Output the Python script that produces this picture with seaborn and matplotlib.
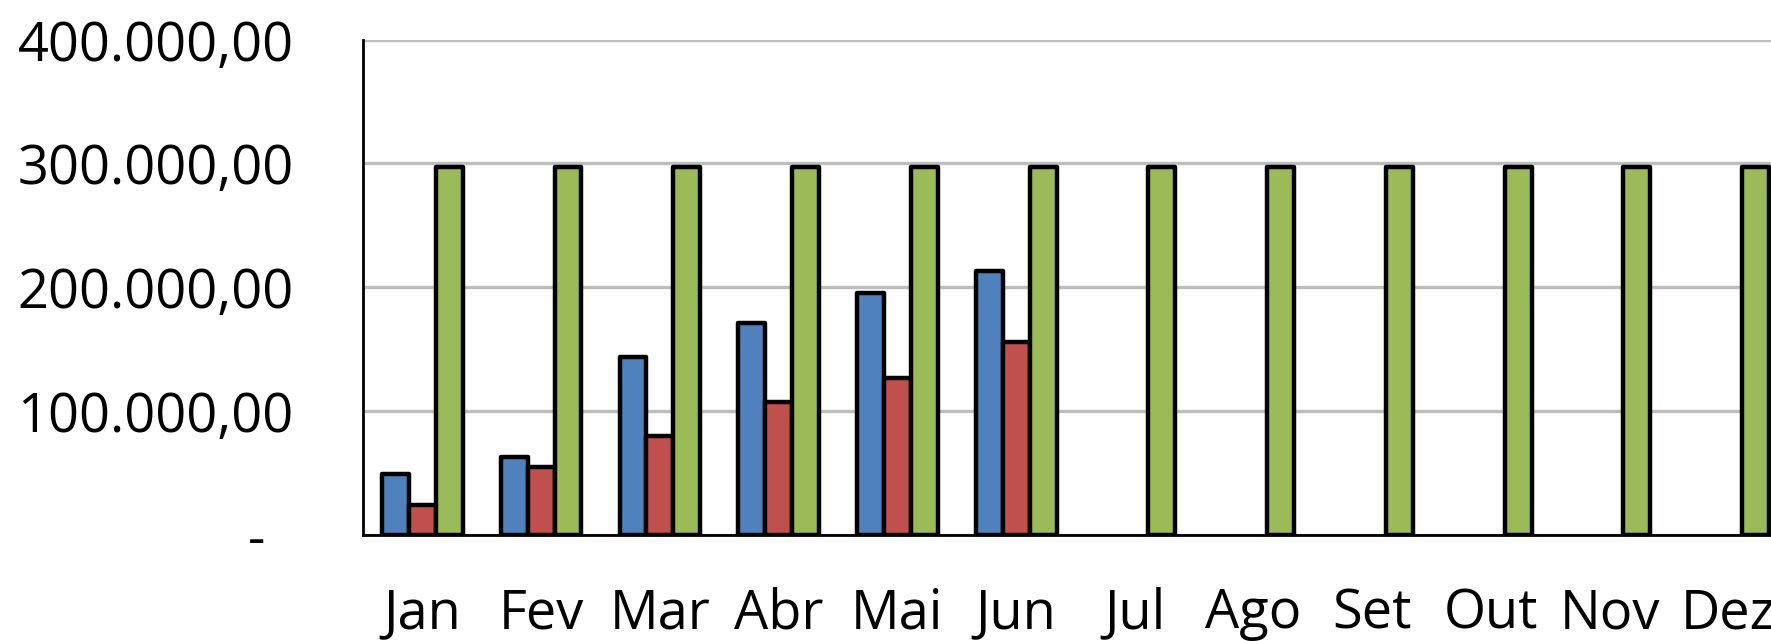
import pandas as pd
import seaborn as sns
import matplotlib.pyplot as plt
from matplotlib.ticker import FixedLocator

# Monthly values
months = ['Jan', 'Fev', 'Mar', 'Abr', 'Mai', 'Jun', 'Jul', 'Ago', 'Set', 'Out', 'Nov', 'Dez']
serie_azul = [49000, 63000, 144000, 171000, 195000, 213000]
serie_vermelha = [24000, 55000, 80000, 107000, 127000, 156000]
serie_verde = [297000] * 12
series_names = ['Realizado', 'Recebido', 'Meta']
colors = ['#4F81BD', '#C0504D', '#9BBB59']
y_ticks = [0, 100000, 200000, 300000, 400000]
y_labels = ['-  ', '100.000,00', '200.000,00', '300.000,00', '400.000,00']

rows = []
for name, vals in zip(series_names, [serie_azul, serie_vermelha, serie_verde]):
    for m, v in zip(months, vals):
        rows.append({'Mes': m, 'Serie': name, 'Valor': v})
data = pd.DataFrame(rows)

sns.set_style('white')
plt.rcParams['font.family'] = ['Open Sans', 'DejaVu Sans']

fig = plt.figure(figsize=(17.71, 6.41), dpi=100)
ax = fig.add_axes([363 / 1771, 106 / 641, 1425 / 1771, 495.5 / 641])

sns.barplot(data=data, x='Mes', y='Valor', hue='Serie', order=months,
            hue_order=series_names, palette=colors, width=0.68,
            edgecolor='black', linewidth=3.2, saturation=1, ax=ax, zorder=3)
if ax.get_legend() is not None:
    ax.get_legend().remove()
for p in ax.patches:
    p.set_joinstyle('round')

ax.set_xlim(-0.5, 11.5)
ax.set_ylim(0, 400000)
ax.yaxis.set_major_locator(FixedLocator(y_ticks))
ax.set_yticklabels(y_labels)
ax.yaxis.grid(True, color='#BDBDBD', linewidth=2.4, zorder=0)
ax.set_axisbelow(True)
ax.set_xlabel('')
ax.set_ylabel('')

for side in ['top', 'right']:
    ax.spines[side].set_visible(False)
for side in ['left', 'bottom']:
    ax.spines[side].set_color('black')
    ax.spines[side].set_linewidth(2)
    ax.spines[side].set_zorder(4)

ax.tick_params(axis='y', length=0, pad=50, labelsize=39, colors='black')
ax.tick_params(axis='x', length=0, pad=37, labelsize=39, colors='black')

plt.savefig('out.png', dpi=100)
plt.close()
